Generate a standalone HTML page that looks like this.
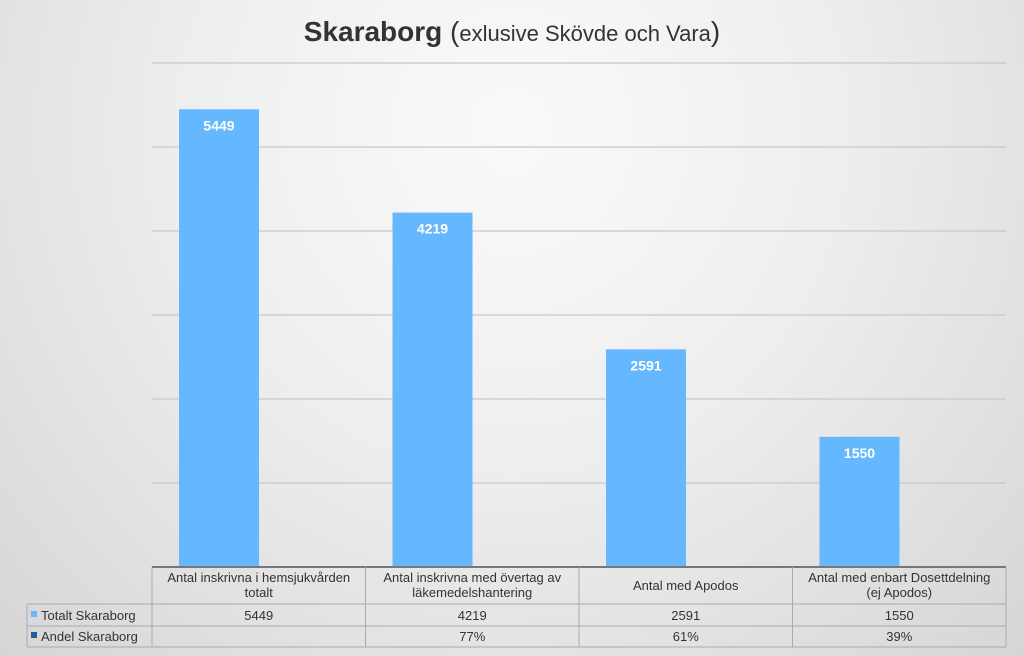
<!DOCTYPE html>
<html><head><meta charset="utf-8"><style>
body{margin:0;width:1024px;height:656px;overflow:hidden;font-family:"Liberation Sans",sans-serif}
#bg{position:absolute;left:0;top:0;width:1024px;height:656px;background:radial-gradient(ellipse at 50% 20%,#fafafa 0%,#eeeeee 45%,#d6d6d6 100%)}
</style></head><body>
<div id="bg"></div>
<svg id="c" width="1024" height="656" style="position:absolute;left:0;top:0"></svg>
<script>
const categories=[["Antal inskrivna i hemsjukvården","totalt"],["Antal inskrivna med övertag av","läkemedelshantering"],["Antal med Apodos"],["Antal med enbart Dosettdelning","(ej Apodos)"]];
const totals=[5449,4219,2591,1550];
const shares=["","77%","61%","39%"];
const yTicks=[0,1000,2000,3000,4000,5000,6000];
const NS="http://www.w3.org/2000/svg";
const svg=document.getElementById('c');
const x0=152,x1=1006,base=567,plotTop=63,ymax=6000;
const slot=(x1-x0)/categories.length;
function yScale(v){return base-(v/ymax)*(base-plotTop);}
function mk(t,a,p){const e=document.createElementNS(NS,t);for(const k in a)e.setAttribute(k,a[k]);(p||svg).appendChild(e);return e;}
const tt=mk('text',{x:512,y:41,'text-anchor':'middle','font-size':28,fill:'#333'});


tt.innerHTML='<tspan font-weight="bold">Skaraborg</tspan><tspan font-size="28"> (</tspan><tspan font-size="22">exlusive Skövde och Vara</tspan><tspan font-size="28">)</tspan>';
yTicks.forEach(v=>{if(v===0)return;const l=mk('line',{x1:x0,x2:x1,y1:yScale(v),y2:yScale(v),stroke:'#c8c8c8','stroke-width':1.3});

});
totals.forEach((v,i)=>{const cx=x0+slot*i+67;
const r=mk('rect',{x:cx-40,y:yScale(v),width:80,height:base-yScale(v),fill:'#66b8fe'});


const t=mk('text',{x:cx,y:yScale(v)+21,'text-anchor':'middle','font-size':14,'font-weight':'bold',fill:'#fff'});


t.textContent=v;});
mk('line',{x1:x0,x2:x1,y1:567,y2:567,stroke:'#777','stroke-width':2});
[604,626,647].forEach(yy=>mk('line',{x1:27,x2:x1,y1:yy,y2:yy,stroke:'#aaa','stroke-width':1}));
mk('line',{x1:27,x2:27,y1:604,y2:647,stroke:'#aaa'});
for(let i=0;i<=categories.length;i++)mk('line',{x1:x0+slot*i,x2:x0+slot*i,y1:567,y2:647,stroke:'#aaa'});
categories.forEach((c,i)=>{const cx=x0+slot*i+slot/2;
const t=mk('text',{'text-anchor':'middle','font-size':13,fill:'#333'});


const y0=c.length===1?590:582;
c.forEach((s,j)=>{const sp=mk('tspan',{x:cx,y:y0+j*15},t);sp.textContent=s;});
const a=mk('text',{x:cx,y:620,'text-anchor':'middle','font-size':13,fill:'#333'});


a.textContent=totals[i];
const b=mk('text',{x:cx,y:641,'text-anchor':'middle','font-size':13,fill:'#333'});


b.textContent=shares[i];});
[["Totalt Skaraborg","#66b8fe",620],["Andel Skaraborg","#1f5f9a",641]].forEach(([n,col,yy])=>{
const k=mk('rect',{x:31,y:yy-9,width:6,height:6,fill:col});


const t=mk('text',{x:41,y:yy,'font-size':13,fill:'#333'});


t.textContent=n;});
</script>
</body></html>
